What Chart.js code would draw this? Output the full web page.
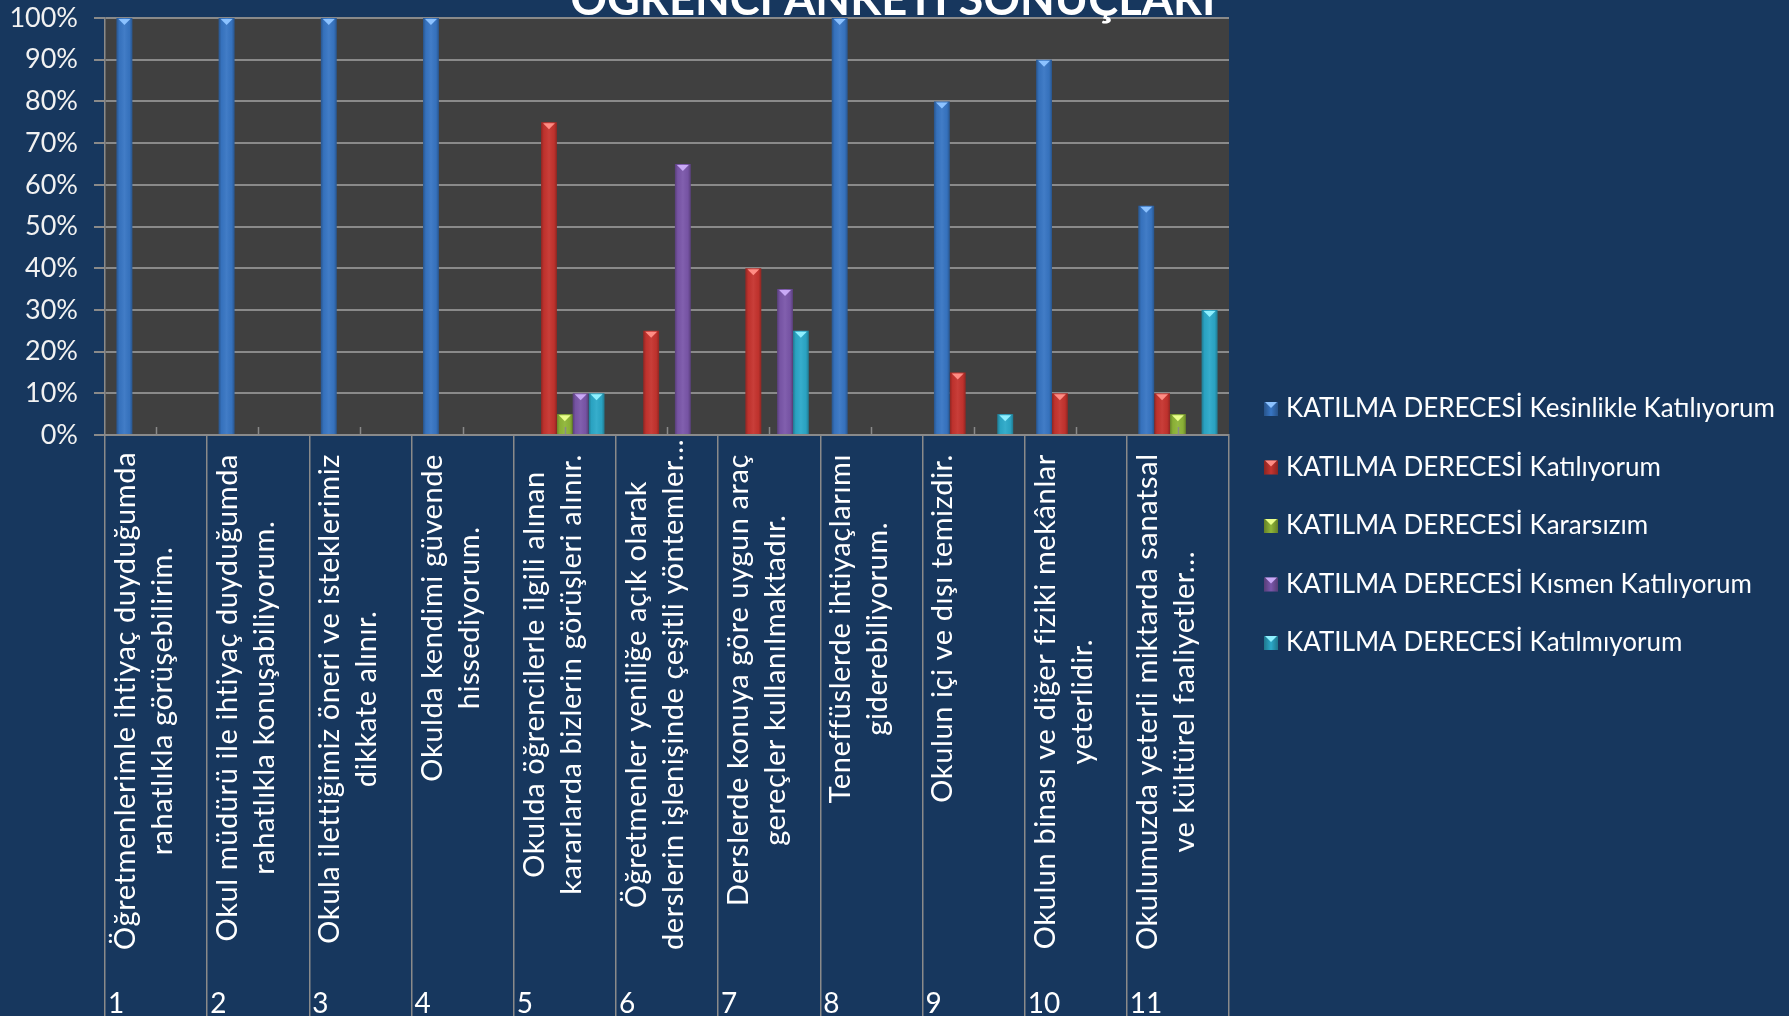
<!DOCTYPE html>
<html><head><meta charset="utf-8">
<script src="https://cdn.jsdelivr.net/npm/chart.js@4.4.1/dist/chart.umd.min.js"></script>
<style>html,body{margin:0;padding:0;background:#17375E;overflow:hidden}
#wrap{position:relative;width:1789px;height:1016px}</style></head>
<body><div id="wrap"><canvas id="c" width="1789" height="1016"></canvas></div>
<script>
// ---------- DATA ----------
const chartTitle = 'ÖĞRENCİ ANKETİ SONUÇLARI';
const categoryNumbers = ['1','2','3','4','5','6','7','8','9','10','11'];
const categoryLabels = [
  ['Öğretmenlerimle ihtiyaç duyduğumda', 'rahatlıkla görüşebilirim.'],
  ['Okul müdürü ile ihtiyaç duyduğumda', 'rahatlıkla konuşabiliyorum.'],
  ['Okula ilettiğimiz öneri ve isteklerimiz', 'dikkate alınır.'],
  ['Okulda kendimi güvende', 'hissediyorum.'],
  ['Okulda öğrencilerle ilgili alınan', 'kararlarda bizlerin görüşleri alınır.'],
  ['Öğretmenler yeniliğe açık olarak', 'derslerin işlenişinde çeşitli yöntemler...'],
  ['Derslerde konuya göre uygun araç', 'gereçler kullanılmaktadır.'],
  ['Teneffüslerde ihtiyaçlarımı', 'giderebiliyorum.'],
  ['Okulun içi ve dışı temizdir.'],
  ['Okulun binası ve diğer fiziki mekânlar', 'yeterlidir.'],
  ['Okulumuzda yeterli miktarda sanatsal', 've kültürel faaliyetler...']
];
const seriesNames = [
  'KATILMA DERECESİ Kesinlikle Katılıyorum',
  'KATILMA DERECESİ Katılıyorum',
  'KATILMA DERECESİ Kararsızım',
  'KATILMA DERECESİ Kısmen Katılıyorum',
  'KATILMA DERECESİ Katılmıyorum'
];
const kesinlikleKatiliyorum = [100, 100, 100, 100, 0, 0, 0, 100, 80, 90, 55];
const katiliyorum           = [0, 0, 0, 0, 75, 25, 40, 0, 15, 10, 10];
const kararsizim            = [0, 0, 0, 0, 5, 0, 0, 0, 0, 0, 5];
const kismenKatiliyorum     = [0, 0, 0, 0, 10, 65, 35, 0, 0, 0, 0];
const katilmiyorum          = [0, 0, 0, 0, 10, 0, 25, 0, 5, 0, 30];
const yTickValues = [0, 10, 20, 30, 40, 50, 60, 70, 80, 90, 100];
const yTickLabels = ['0%', '10%', '20%', '30%', '40%', '50%', '60%', '70%', '80%', '90%', '100%'];

// ---------- STYLE ----------
const seriesFill = ['#3876c4', '#c6342f', '#8fb638', '#7b57aa', '#2ca9c9'];
const seriesTri  = ['#8cc2ff', '#ff8d84', '#eaff8c', '#c9a9f6', '#8ff0ff'];
const NAVY = '#17375E', PLOT = '#404040', GRID = '#8a8a8a';
const FONT = 'Lato, "Open Sans", sans-serif';

const allSeries = [kesinlikleKatiliyorum, katiliyorum, kararsizim, kismenKatiliyorum, katilmiyorum];

const bgPlugin = {
  id: 'bg',
  beforeDraw(chart) {
    const {ctx, chartArea: a} = chart;
    ctx.save();
    ctx.fillStyle = NAVY;
    ctx.fillRect(0, 0, chart.width, chart.height);
    ctx.fillStyle = PLOT;
    ctx.fillRect(a.left, a.top, a.right - a.left, a.bottom - a.top);
    ctx.restore();
  }
};

const barLook = {
  id: 'barLook',
  afterDatasetsDraw(chart) {
    const {ctx} = chart;
    ctx.save();
    chart.data.datasets.forEach((ds, di) => {
      const meta = chart.getDatasetMeta(di);
      meta.data.forEach((el, i) => {
        if (!(ds.data[i] > 0)) return;
        const w = el.width, l = el.x - w / 2, top = el.y, h = el.base - el.y;
        const g = ctx.createLinearGradient(l, 0, l + w, 0);
        g.addColorStop(0, 'rgba(0,0,0,0.28)');
        g.addColorStop(0.18, 'rgba(0,0,0,0.04)');
        g.addColorStop(0.5, 'rgba(255,255,255,0.05)');
        g.addColorStop(0.82, 'rgba(0,0,0,0.04)');
        g.addColorStop(1, 'rgba(0,0,0,0.28)');
        ctx.fillStyle = g;
        ctx.fillRect(l, top, w, h);
        ctx.fillStyle = seriesTri[di];
        ctx.beginPath();
        ctx.moveTo(l + 2, top + 1);
        ctx.lineTo(l + w - 2, top + 1);
        ctx.lineTo(el.x, top + 7);
        ctx.closePath();
        ctx.fill();
      });
    });
    // small ticks at category centres
    const xs = chart.scales.x, a = chart.chartArea;
    ctx.strokeStyle = GRID; ctx.lineWidth = 1.5;
    categoryNumbers.forEach((_, i) => {
      const x = Math.round(xs.getPixelForValue(i)) + 0.5;
      ctx.beginPath(); ctx.moveTo(x, a.bottom); ctx.lineTo(x, a.bottom - 8); ctx.stroke();
    });
    ctx.restore();
  }
};

const decor = {
  id: 'decor',
  afterDraw(chart) {
    const {ctx, chartArea: a} = chart;
    const xs = chart.scales.x;
    const cellW = (a.right - a.left) / categoryNumbers.length;
    ctx.save();
    ctx.fillStyle = '#ffffff';
    // category labels (rotated)
    ctx.font = '29px ' + FONT;
    ctx.letterSpacing = '0.6px';
    ctx.textAlign = 'center';
    ctx.textBaseline = 'alphabetic';
    const labelTop = a.bottom + 19, labelBottomLimit = 950;
    categoryLabels.forEach((lines, i) => {
      const cellLeft = xs.getPixelForValue(i) - cellW / 2;
      const maxW = Math.max(...lines.map(t => ctx.measureText(t).width));
      const yc = Math.min(labelTop + maxW / 2, labelBottomLimit - maxW / 2);
      lines.forEach((t, j) => {
        ctx.save();
        ctx.translate(cellLeft + 30 + j * 37, yc);
        ctx.rotate(-Math.PI / 2);
        ctx.fillText(t, 0, 0);
        ctx.restore();
      });
    });
    ctx.letterSpacing = '0px';
    // category numbers
    ctx.font = '28px ' + FONT;
    ctx.textAlign = 'left';
    categoryNumbers.forEach((n, i) => {
      const cellLeft = xs.getPixelForValue(i) - cellW / 2;
      ctx.fillText(n, cellLeft + 3, 1013);
    });
    // legend
    ctx.font = '26px ' + FONT;
    ctx.textBaseline = 'middle';
    chart.data.datasets.forEach((ds, di) => {
      const yc = 409 + di * 58.5;
      const x0 = 1264, s = 14;
      ctx.fillStyle = seriesFill[di];
      ctx.fillRect(x0, yc - s / 2, s, s);
      const g = ctx.createLinearGradient(x0, 0, x0 + s, 0);
      g.addColorStop(0, 'rgba(0,0,0,0.3)'); g.addColorStop(0.5, 'rgba(0,0,0,0)'); g.addColorStop(1, 'rgba(0,0,0,0.3)');
      ctx.fillStyle = g; ctx.fillRect(x0, yc - s / 2, s, s);
      ctx.fillStyle = seriesTri[di];
      ctx.beginPath(); ctx.moveTo(x0 + 1, yc - s / 2); ctx.lineTo(x0 + s - 1, yc - s / 2); ctx.lineTo(x0 + s / 2, yc - s / 2 + 6); ctx.closePath(); ctx.fill();
      ctx.fillStyle = '#ffffff';
      ctx.fillText(ds.label, 1286, yc);
    });
    // title (cut off at top edge)
    let fs = 48;
    ctx.font = 'bold ' + fs + 'px ' + FONT;
    fs = fs * 645 / ctx.measureText(chartTitle).width;
    ctx.font = 'bold ' + fs.toFixed(1) + 'px ' + FONT;
    ctx.textAlign = 'center';
    ctx.textBaseline = 'alphabetic';
    ctx.fillStyle = '#ffffff';
    ctx.fillText(chartTitle, 893, 15);
    ctx.restore();
  }
};

new Chart(document.getElementById('c'), {
  type: 'bar',
  data: {
    labels: categoryNumbers,
    datasets: allSeries.map((d, i) => ({
      label: seriesNames[i],
      data: d,
      backgroundColor: seriesFill[i],
      borderWidth: 0,
      categoryPercentage: 0.775,
      barPercentage: 1.0
    }))
  },
  options: {
    responsive: false,
    animation: false,
    devicePixelRatio: 1,
    layout: {padding: {top: 18, right: 560, bottom: 0, left: 0}},
    plugins: {legend: {display: false}, tooltip: {enabled: false}, title: {display: false}},
    scales: {
      x: {
        offset: true,
        grid: {display: true, offset: true, drawOnChartArea: false, drawTicks: true, tickLength: 581, color: GRID, lineWidth: 1.5},
        border: {display: true, color: GRID, width: 2},
        ticks: {display: false},
        afterFit(s) { s.height = 581; }
      },
      y: {
        min: 0, max: 100,
        afterBuildTicks(s) { s.ticks = yTickValues.map(v => ({value: v})); },
        ticks: {
          callback: (v) => yTickLabels[yTickValues.indexOf(v)],
          color: '#f2f2f2', font: {family: FONT, size: 27}, padding: 16
        },
        grid: {color: GRID, lineWidth: 2, tickLength: 11, drawTicks: true},
        border: {display: true, color: GRID, width: 1.5},
        afterFit(s) { s.width = 105; s.paddingTop = 0; s.paddingBottom = 0; }
      }
    }
  },
  plugins: [bgPlugin, barLook, decor]
});
</script>
</body></html>
